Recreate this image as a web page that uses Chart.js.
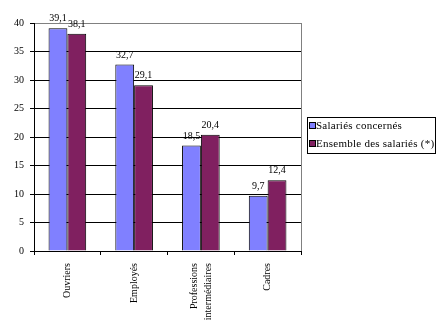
<!DOCTYPE html>
<html>
<head>
<meta charset="utf-8">
<script src="https://cdn.jsdelivr.net/npm/chart.js@4"></script>
<style>
    html, body { margin: 0; padding: 0; background: #fff; }
    #wrap { width: 442px; height: 334px; }
</style>
</head>
<body>
<div id="wrap"><canvas id="chart" width="442" height="334"></canvas></div>
<script>
// categories and series
const categories = ['Ouvriers', 'Employés', ['Professions', 'intermédiaires'], 'Cadres'];
const salariesConcernes = [39.1, 32.7, 18.5, 9.7];
const ensembleSalaries = [38.1, 29.1, 20.4, 12.4];
const seriesNames = ['Salariés concernés', 'Ensemble des salariés (*)'];
const yTicks = [0, 5, 10, 15, 20, 25, 30, 35, 40];

const FONT = '"Liberation Serif", "Times New Roman", serif';
const COLORS = ['#8080ff', '#802060'];
const X_LINE_HEIGHT = 14;

// value labels above every bar, french decimal comma
const valueLabels = {
    id: 'valueLabels',
    afterDatasetsDraw: function(chart) {
        const ctx = chart.ctx;
        ctx.save();
        ctx.font = '10px ' + FONT;
        ctx.fillStyle = '#000';
        ctx.textAlign = 'center';
        ctx.textBaseline = 'alphabetic';
        chart.data.datasets.forEach((ds, i) => {
            chart.getDatasetMeta(i).data.forEach((bar, j) => {
                const txt = ds.data[j].toFixed(1).replace('.', ',');
                ctx.fillText(txt, bar.x, bar.y - 7);
            });
        });
        ctx.restore();
    }
};

// rotated two-line labels start at the tick; shift them so the block is centred
const centreRotatedLabels = {
    id: 'centreRotatedLabels',
    beforeDraw: function(chart) {
        const items = chart.scales.x.getLabelItems();
        items.forEach(item => {
            if (Array.isArray(item.label) && !item._centred) {
                item.options.translation[0] -= (item.label.length - 1) * X_LINE_HEIGHT / 2;
                item._centred = true;
            }
        });
    }
};

// gray right border of the plot + boxed legend on the right
const frameAndLegend = {
    id: 'frameAndLegend',
    afterDraw: function(chart) {
        const ctx = chart.ctx;
        const area = chart.chartArea;
        ctx.save();
        ctx.strokeStyle = '#808080';
        ctx.lineWidth = 1;
        ctx.beginPath();
        ctx.moveTo(Math.round(area.right) + 0.5, Math.round(area.top));
        ctx.lineTo(Math.round(area.right) + 0.5, Math.round(area.bottom));
        ctx.stroke();

        // legend box
        const lx = 307, ly = 117, lw = 128, lh = 36;
        ctx.strokeStyle = '#000';
        ctx.strokeRect(lx + 0.5, ly + 0.5, lw, lh);
        ctx.font = '11px ' + FONT;
        ctx.letterSpacing = '0.25px';
        ctx.textBaseline = 'middle';
        ctx.textAlign = 'left';
        seriesNames.forEach((name, i) => {
            const y = ly + 6 + i * 18;
            ctx.fillStyle = COLORS[i];
            ctx.fillRect(lx + 3, y, 5, 5);
            ctx.strokeRect(lx + 2.5, y - 0.5, 6, 6);
            ctx.fillStyle = '#000';
            ctx.fillText(name, lx + 9, y + 3);
        });
        ctx.restore();
    }
};

new Chart(document.getElementById('chart'), {
    type: 'bar',
    data: {
        labels: categories,
        datasets: [
            {
                label: seriesNames[0],
                data: salariesConcernes,
                backgroundColor: COLORS[0],
                borderColor: '#000',
                borderWidth: 1
            },
            {
                label: seriesNames[1],
                data: ensembleSalaries,
                backgroundColor: COLORS[1],
                borderColor: '#000',
                borderWidth: 1
            }
        ]
    },
    options: {
        responsive: false,
        animation: false,
        events: [],
        categoryPercentage: 0.564,
        barPercentage: 1,
        layout: { padding: { top: 23, right: 141, left: 0, bottom: 0 } },
        plugins: {
            legend: { display: false },
            tooltip: { enabled: false }
        },
        scales: {
            x: {
                grid: {
                    offset: true,
                    drawOnChartArea: false,
                    tickLength: 4,
                    color: '#000'
                },
                border: { color: '#000' },
                ticks: {
                    autoSkip: false,
                    minRotation: 90,
                    maxRotation: 90,
                    padding: 8,
                    color: '#000',
                    font: { family: FONT, size: 10, lineHeight: X_LINE_HEIGHT + 'px' }
                },
                afterFit: function(scale) { scale.height = 83; }
            },
            y: {
                min: 0,
                max: 40,
                afterBuildTicks: function(scale) {
                    scale.ticks = yTicks.map(v => ({ value: v }));
                },
                grid: {
                    color: ctx => (ctx.tick && ctx.tick.value === 40 ? '#808080' : '#000'),
                    tickColor: '#000',
                    tickLength: 4
                },
                border: { color: '#000' },
                ticks: {
                    padding: 6,
                    color: '#000',
                    font: { family: FONT, size: 10 }
                },
                afterFit: function(scale) { scale.width = 34; }
            }
        }
    },
    plugins: [valueLabels, centreRotatedLabels, frameAndLegend]
});
</script>
</body>
</html>
